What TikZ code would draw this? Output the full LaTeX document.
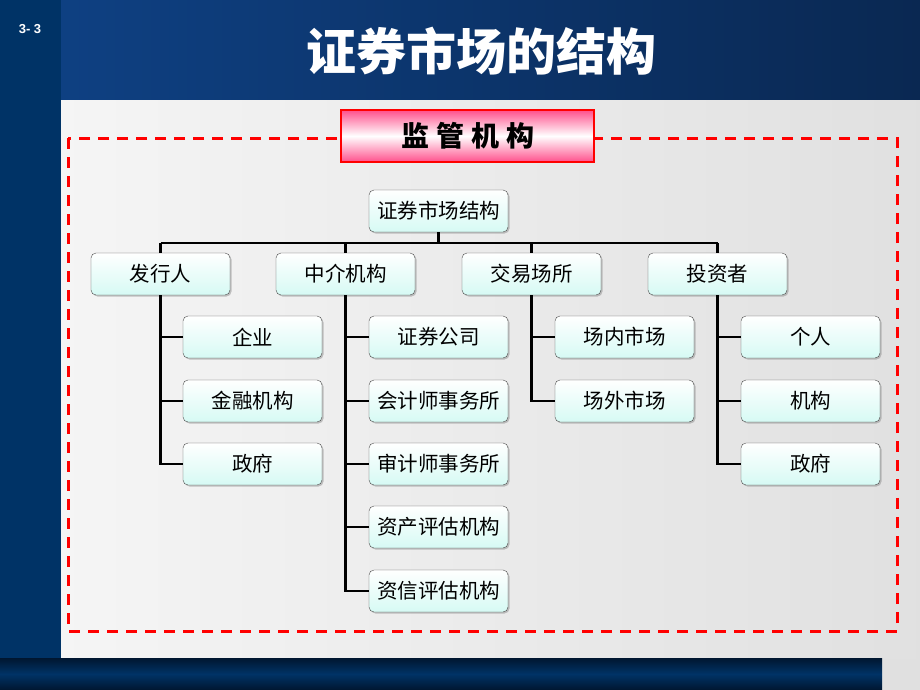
\documentclass[tikz,border=0pt]{standalone}
\usepackage{fontspec}
\setmainfont{Liberation Sans}
\newfontfamily\cjk{Noto Sans CJK SC}
\usetikzlibrary{shadows}
\definecolor{slideblue}{RGB}{0,51,102}
\definecolor{darkblue}{RGB}{0,22,48}
\definecolor{titleleft}{RGB}{14,64,130}
\definecolor{titleright}{RGB}{10,40,82}
\definecolor{boxfill}{RGB}{214,250,244}
\definecolor{pinkedge}{RGB}{255,80,140}
\tikzset{
  orgbox/.style={draw=black!70, rounded corners=5pt, top color=white, bottom color=boxfill,
    minimum width=139pt, minimum height=42pt, inner sep=0pt, font=\cjk\fontsize{20.5}{20.5}\selectfont,
    drop shadow={shadow xshift=1.5pt, shadow yshift=-1.5pt, fill=black!45}},
  tree/.style={line width=2.8pt, black}
}
\begin{document}
\begin{tikzpicture}[x=1pt,y=-1pt]
        \useasboundingbox (0,0) rectangle (920,690);
        \coordinate (slidetl) at (0,0);
        \coordinate (slidebr) at (920,690);
        \coordinate (bus) at (0,243);

        % background
        \fill[black!12] (slidetl) rectangle (slidebr);
        \shade[left color=black!4, right color=black!12] (61,100) rectangle (920,658);
        \fill[slideblue] (0,0) rectangle (61,658);
        \shade[left color=titleleft, right color=titleright] (61,0) rectangle (920,100);
        \shade[top color=darkblue, bottom color=darkblue, middle color=slideblue] (0,658) rectangle (882,690);

        \node[text=white, font=\bfseries\fontsize{13}{13}\selectfont] (pageno) at (30,29) {3- 3};
        \node[text=white, font=\cjk\bfseries\fontsize{50}{50}\selectfont] (title) at (481,51) {证券市场的结构};

        % supervision frame
        \draw[red, line width=3pt, dash pattern=on 11pt off 8pt] (68,138) rectangle (897,631);
        \node[draw=red, line width=1.2pt, top color=pinkedge, bottom color=pinkedge, middle color=white,
              minimum width=253pt, minimum height=52pt, font=\cjk\bfseries\fontsize{28}{28}\selectfont]
              (supervisor) at (467.5,136) {监\hspace{7pt}管\hspace{7pt}机\hspace{7pt}构};

        % tree
        \node[orgbox] (root) at (438.5,211) {证券市场结构};
        \node[orgbox] (issuer) at (160.5,274) {发行人};
        \node[orgbox] (agency) at (345.5,274) {中介机构};
        \node[orgbox] (venue) at (531.5,274) {交易场所};
        \node[orgbox] (investor) at (717.5,274) {投资者};

        \node[orgbox] (firm) at (252.5,337) {企业};
        \node[orgbox] (bank) at (252.5,401) {金融机构};
        \node[orgbox] (govA) at (252.5,464) {政府};

        \node[orgbox] (broker) at (438.5,337) {证券公司};
        \node[orgbox] (accountant) at (438.5,401) {会计师事务所};
        \node[orgbox] (auditor) at (438.5,464) {审计师事务所};
        \node[orgbox] (appraiser) at (438.5,527) {资产评估机构};
        \node[orgbox] (rating) at (438.5,591) {资信评估机构};

        \node[orgbox] (exchange) at (624.5,337) {场内市场};
        \node[orgbox] (otc) at (624.5,401) {场外市场};

        \node[orgbox] (person) at (810.5,337) {个人};
        \node[orgbox] (institution) at (810.5,401) {机构};
        \node[orgbox] (govB) at (810.5,464) {政府};

        \draw[tree] (root.south) -- (root.south |- bus);
        \draw[tree] (issuer.north |- bus) -- (investor.north |- bus);
        \draw[tree] (issuer.north) -- (issuer.north |- bus);
        \draw[tree] (agency.north) -- (agency.north |- bus);
        \draw[tree] (venue.north) -- (venue.north |- bus);
        \draw[tree] (investor.north) -- (investor.north |- bus);

        \draw[tree] (issuer.south) |- (firm.west);
        \draw[tree] (issuer.south) |- (bank.west);
        \draw[tree] (issuer.south) |- (govA.west);
        \draw[tree] (agency.south) |- (broker.west);
        \draw[tree] (agency.south) |- (accountant.west);
        \draw[tree] (agency.south) |- (auditor.west);
        \draw[tree] (agency.south) |- (appraiser.west);
        \draw[tree] (agency.south) |- (rating.west);
        \draw[tree] (venue.south) |- (exchange.west);
        \draw[tree] (venue.south) |- (otc.west);
        \draw[tree] (investor.south) |- (person.west);
        \draw[tree] (investor.south) |- (institution.west);
        \draw[tree] (investor.south) |- (govB.west);
    \end{tikzpicture}
\end{document}
